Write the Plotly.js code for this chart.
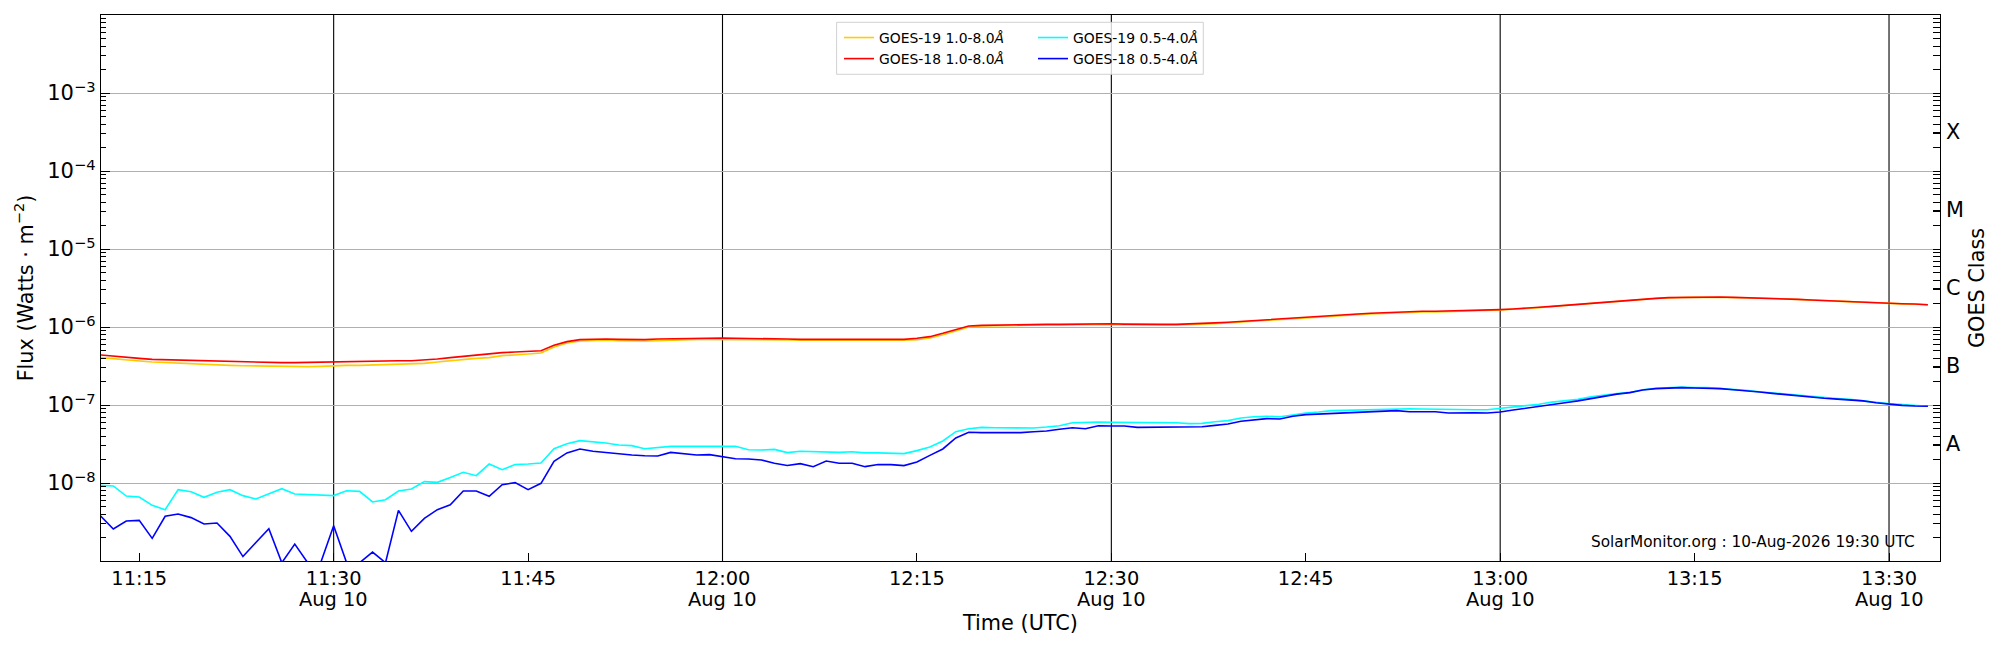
<!DOCTYPE html>
<html>
<head>
<meta charset="utf-8">
<script src="https://cdn.plot.ly/plotly-3.0.1.min.js"></script>
<style>
  html, body { margin: 0; padding: 0; background: #ffffff; }
  #chart { width: 2000px; height: 650px; }
</style>
</head>
<body>
<div id="chart"></div>
<script>
// ---------------- DATA (1-minute samples starting 11:12 UTC, 10 Aug) ----------------
const startTime = '2026-08-10 11:12';

// GOES-19 1.0-8.0 Å (gold)
const goes19Long = [
  4.05e-7, 3.89e-7, 3.74e-7, 3.66e-7, 3.56e-7, 3.49e-7, 3.46e-7, 3.39e-7, 3.32e-7, 3.26e-7,
  3.22e-7, 3.19e-7, 3.16e-7, 3.13e-7, 3.10e-7, 3.07e-7, 3.10e-7, 3.13e-7, 3.19e-7, 3.22e-7,
  3.22e-7, 3.26e-7, 3.29e-7, 3.32e-7, 3.35e-7, 3.42e-7, 3.56e-7, 3.70e-7, 3.89e-7, 3.96e-7,
  4.05e-7,
  4.29e-7, 4.38e-7, 4.46e-7, 4.64e-7, 5.54e-7, 6.24e-7, 6.61e-7, 6.75e-7, 6.75e-7, 6.68e-7,
  6.61e-7, 6.61e-7, 6.68e-7, 6.81e-7, 6.88e-7, 6.95e-7, 6.95e-7, 6.95e-7, 6.95e-7, 6.88e-7,
  6.88e-7, 6.81e-7, 6.81e-7, 6.75e-7, 6.75e-7, 6.75e-7, 6.75e-7, 6.68e-7, 6.68e-7, 6.68e-7,
  6.68e-7, 6.75e-7, 6.88e-7, 7.23e-7, 7.97e-7, 8.97e-7, 1.00e-6,
  1.03e-6, 1.04e-6, 1.04e-6, 1.05e-6, 1.05e-6, 1.06e-6, 1.06e-6, 1.07e-6, 1.08e-6, 1.08e-6,
  1.08e-6, 1.07e-6, 1.06e-6, 1.06e-6, 1.06e-6, 1.06e-6, 1.07e-6, 1.08e-6, 1.10e-6, 1.13e-6,
  1.16e-6, 1.19e-6, 1.22e-6, 1.24e-6, 1.27e-6, 1.30e-6, 1.34e-6, 1.38e-6, 1.41e-6, 1.44e-6,
  1.47e-6, 1.50e-6, 1.53e-6, 1.54e-6, 1.56e-6, 1.56e-6,
  1.57e-6, 1.59e-6, 1.61e-6, 1.63e-6, 1.65e-6, 1.68e-6, 1.72e-6, 1.77e-6, 1.83e-6, 1.88e-6,
  1.94e-6, 2.00e-6, 2.06e-6, 2.12e-6, 2.19e-6, 2.25e-6, 2.32e-6, 2.37e-6, 2.39e-6, 2.41e-6,
  2.41e-6, 2.41e-6, 2.39e-6, 2.37e-6, 2.34e-6, 2.32e-6, 2.30e-6, 2.25e-6, 2.21e-6, 2.17e-6,
  2.14e-6, 2.10e-6, 2.06e-6, 2.02e-6, 2.00e-6, 1.98e-6, 1.96e-6, 1.92e-6
];

// GOES-18 1.0-8.0 Å (red)
const goes18Long = [
  4.38e-7, 4.21e-7, 4.05e-7, 3.96e-7, 3.85e-7, 3.81e-7, 3.78e-7, 3.74e-7, 3.70e-7, 3.66e-7,
  3.59e-7, 3.56e-7, 3.56e-7, 3.52e-7, 3.49e-7, 3.49e-7, 3.52e-7, 3.56e-7, 3.59e-7, 3.63e-7,
  3.63e-7, 3.63e-7, 3.66e-7, 3.70e-7, 3.70e-7, 3.78e-7, 3.89e-7, 4.05e-7, 4.21e-7, 4.33e-7,
  4.47e-7,
  4.69e-7, 4.78e-7, 4.88e-7, 4.97e-7, 5.82e-7, 6.49e-7, 6.88e-7, 7.02e-7, 7.02e-7, 6.95e-7,
  6.88e-7, 6.88e-7, 7.02e-7, 7.09e-7, 7.16e-7, 7.23e-7, 7.23e-7, 7.23e-7, 7.16e-7, 7.16e-7,
  7.09e-7, 7.09e-7, 7.02e-7, 6.95e-7, 6.95e-7, 6.95e-7, 6.95e-7, 6.88e-7, 6.88e-7, 6.88e-7,
  6.88e-7, 6.95e-7, 7.16e-7, 7.52e-7, 8.29e-7, 9.33e-7, 1.03e-6,
  1.05e-6, 1.06e-6, 1.06e-6, 1.07e-6, 1.07e-6, 1.08e-6, 1.08e-6, 1.09e-6, 1.10e-6, 1.10e-6,
  1.10e-6, 1.09e-6, 1.08e-6, 1.08e-6, 1.08e-6, 1.08e-6, 1.09e-6, 1.10e-6, 1.13e-6, 1.15e-6,
  1.18e-6, 1.22e-6, 1.24e-6, 1.27e-6, 1.29e-6, 1.33e-6, 1.37e-6, 1.41e-6, 1.44e-6, 1.47e-6,
  1.50e-6, 1.53e-6, 1.56e-6, 1.57e-6, 1.59e-6, 1.59e-6,
  1.60e-6, 1.62e-6, 1.64e-6, 1.65e-6, 1.67e-6, 1.70e-6, 1.73e-6, 1.79e-6, 1.84e-6, 1.90e-6,
  1.95e-6, 2.01e-6, 2.07e-6, 2.13e-6, 2.20e-6, 2.26e-6, 2.33e-6, 2.38e-6, 2.40e-6, 2.42e-6,
  2.42e-6, 2.42e-6, 2.40e-6, 2.38e-6, 2.35e-6, 2.33e-6, 2.31e-6, 2.26e-6, 2.22e-6, 2.18e-6,
  2.15e-6, 2.11e-6, 2.07e-6, 2.03e-6, 2.01e-6, 1.99e-6, 1.97e-6, 1.93e-6
];

// GOES-19 0.5-4.0 Å (cyan)
const goes19Short = [
  9.33e-9, 9.16e-9, 6.81e-9, 6.61e-9, 5.17e-9, 4.55e-9, 8.21e-9, 7.74e-9, 6.55e-9, 7.59e-9,
  8.21e-9, 6.89e-9, 6.24e-9, 7.30e-9, 8.46e-9, 7.23e-9, 7.08e-9, 6.89e-9, 6.89e-9, 7.97e-9,
  7.82e-9, 5.71e-9, 6.11e-9, 7.89e-9, 8.38e-9, 1.04e-8, 1.02e-8, 1.18e-8, 1.37e-8, 1.24e-8,
  1.75e-8,
  1.48e-8, 1.73e-8, 1.75e-8, 1.80e-8, 2.75e-8, 3.19e-8, 3.49e-8, 3.39e-8, 3.26e-8, 3.07e-8,
  3.01e-8, 2.75e-8, 2.86e-8, 2.95e-8, 2.95e-8, 2.95e-8, 2.95e-8, 2.95e-8, 2.95e-8, 2.67e-8,
  2.65e-8, 2.70e-8, 2.45e-8, 2.55e-8, 2.52e-8, 2.47e-8, 2.47e-8, 2.52e-8, 2.43e-8, 2.43e-8,
  2.40e-8, 2.38e-8, 2.60e-8, 2.90e-8, 3.46e-8, 4.55e-8, 4.97e-8,
  5.17e-8, 5.12e-8, 5.12e-8, 5.02e-8, 5.07e-8, 5.22e-8, 5.43e-8, 5.93e-8, 6.05e-8, 6.05e-8,
  6.00e-8, 6.00e-8, 6.00e-8, 5.87e-8, 5.93e-8, 5.93e-8, 5.77e-8, 5.82e-8, 6.11e-8, 6.30e-8,
  6.81e-8, 7.08e-8, 7.16e-8, 7.08e-8, 7.45e-8, 7.89e-8, 8.13e-8, 8.46e-8, 8.54e-8, 8.63e-8,
  8.80e-8, 8.97e-8, 9.06e-8, 8.97e-8, 8.89e-8, 8.80e-8,
  8.80e-8, 8.71e-8, 8.71e-8, 8.71e-8, 9.06e-8, 9.33e-8, 9.62e-8, 1.02e-7, 1.09e-7, 1.13e-7,
  1.18e-7, 1.27e-7, 1.34e-7, 1.40e-7, 1.45e-7, 1.57e-7, 1.64e-7, 1.67e-7, 1.70e-7, 1.68e-7,
  1.67e-7, 1.62e-7, 1.59e-7, 1.54e-7, 1.48e-7, 1.43e-7, 1.37e-7, 1.33e-7, 1.28e-7, 1.23e-7,
  1.21e-7, 1.18e-7, 1.14e-7, 1.08e-7, 1.04e-7, 1.02e-7, 9.80e-8, 9.62e-8
];

// GOES-18 0.5-4.0 Å (blue)
const goes18Short = [
  3.81e-9, 2.57e-9, 3.26e-9, 3.32e-9, 1.95e-9, 3.74e-9, 4.01e-9, 3.60e-9, 2.98e-9, 3.07e-9,
  2.07e-9, 1.14e-9, 1.73e-9, 2.60e-9, 9.5e-10, 1.65e-9, 9.5e-10, 9.5e-10, 2.84e-9, 9.5e-10,
  9.5e-10, 1.30e-9, 9.5e-10, 4.46e-9, 2.40e-9, 3.52e-9, 4.55e-9, 5.27e-9, 7.89e-9, 7.89e-9,
  6.74e-9,
  9.50e-9, 1.01e-8, 8.20e-9, 9.90e-9, 1.90e-8, 2.43e-8, 2.73e-8, 2.55e-8, 2.45e-8, 2.40e-8,
  2.29e-8, 2.24e-8, 2.22e-8, 2.47e-8, 2.38e-8, 2.29e-8, 2.31e-8, 2.16e-8, 2.05e-8, 2.03e-8,
  1.97e-8, 1.79e-8, 1.68e-8, 1.77e-8, 1.62e-8, 1.91e-8, 1.79e-8, 1.79e-8, 1.62e-8, 1.73e-8,
  1.72e-8, 1.67e-8, 1.86e-8, 2.26e-8, 2.73e-8, 3.78e-8, 4.47e-8,
  4.42e-8, 4.42e-8, 4.47e-8, 4.42e-8, 4.55e-8, 4.64e-8, 4.88e-8, 5.12e-8, 4.97e-8, 5.43e-8,
  5.38e-8, 5.38e-8, 5.17e-8, 5.17e-8, 5.22e-8, 5.17e-8, 5.22e-8, 5.27e-8, 5.48e-8, 5.71e-8,
  6.18e-8, 6.42e-8, 6.68e-8, 6.61e-8, 7.16e-8, 7.52e-8, 7.67e-8, 7.74e-8, 7.82e-8, 8.13e-8,
  8.29e-8, 8.46e-8, 8.46e-8, 8.21e-8, 8.29e-8, 8.21e-8,
  7.89e-8, 7.97e-8, 7.97e-8, 7.89e-8, 8.13e-8, 8.63e-8, 9.06e-8, 9.52e-8, 1.02e-7, 1.07e-7,
  1.13e-7, 1.21e-7, 1.30e-7, 1.38e-7, 1.44e-7, 1.56e-7, 1.62e-7, 1.65e-7, 1.67e-7, 1.65e-7,
  1.65e-7, 1.62e-7, 1.57e-7, 1.53e-7, 1.47e-7, 1.41e-7, 1.36e-7, 1.32e-7, 1.25e-7, 1.22e-7,
  1.19e-7, 1.17e-7, 1.13e-7, 1.07e-7, 1.02e-7, 9.90e-8, 9.71e-8, 9.62e-8
];

const seriesNames = ['GOES-19 1.0-8.0<i>Å</i>', 'GOES-18 1.0-8.0<i>Å</i>',
                     'GOES-19 0.5-4.0<i>Å</i>', 'GOES-18 0.5-4.0<i>Å</i>'];

const xTickVals = ['2026-08-10 11:15', '2026-08-10 11:30', '2026-08-10 11:45', '2026-08-10 12:00',
                   '2026-08-10 12:15', '2026-08-10 12:30', '2026-08-10 12:45', '2026-08-10 13:00',
                   '2026-08-10 13:15', '2026-08-10 13:30'];
const xTickText = ['11:15', '11:30', '11:45', '12:00', '12:15',
                   '12:30', '12:45', '13:00', '13:15', '13:30'];
const halfHourMarks = ['2026-08-10 11:30', '2026-08-10 12:00', '2026-08-10 12:30',
                       '2026-08-10 13:00', '2026-08-10 13:30'];
const dateLabel = 'Aug 10';

const fluxTickVals = [1e-8, 1e-7, 1e-6, 1e-5, 1e-4, 1e-3];
const fluxTickText = ['10<sup>−8</sup>', '10<sup>−7</sup>', '10<sup>−6</sup>',
                      '10<sup>−5</sup>', '10<sup>−4</sup>', '10<sup>−3</sup>'];
const classTickVals = [3.162e-8, 3.162e-7, 3.162e-6, 3.162e-5, 3.162e-4];
const classTickText = ['A', 'B', 'C', 'M', 'X'];

const watermark = 'SolarMonitor.org : 10-Aug-2026 19:30 UTC';

// ---------------- BUILD ----------------
function minuteTimes(start, n) {
  const t0 = new Date(start.replace(' ', 'T') + ':00Z').getTime();
  const out = [];
  for (let i = 0; i < n; i++) {
    out.push(new Date(t0 + i * 60000).toISOString().slice(0, 19).replace('T', ' '));
  }
  return out;
}
const times = minuteTimes(startTime, goes18Long.length);

const FONT = 'DejaVu Sans, Liberation Sans, sans-serif';
const colors = ['#FFCC00', '#FF0000', '#00FFFF', '#0000FF'];
const seriesData = [goes19Long, goes18Long, goes19Short, goes18Short];
const legendIds = ['legend', 'legend', 'legend2', 'legend2'];

const traces = seriesData.map((ys, i) => ({
  type: 'scatter', mode: 'lines', x: times, y: ys,
  name: seriesNames[i], legend: legendIds[i],
  line: { color: colors[i], width: 1.6 },
  hoverinfo: 'skip'
}));
// helper so the right-hand class axis is drawn
traces.push({ type: 'scatter', mode: 'markers', x: [times[0]], y: [1e-5], yaxis: 'y2',
              marker: { opacity: 0 }, showlegend: false, hoverinfo: 'skip' });

const shapes = halfHourMarks.map(t => ({
  type: 'line', xref: 'x', yref: 'paper', x0: t, x1: t, y0: 0, y1: 1,
  line: { color: '#000000', width: 1.1 }, layer: 'between'
}));
shapes.push({
  type: 'rect', xref: 'paper', yref: 'paper',
  x0: 0.4000, x1: 0.5994, y0: 0.8914, y1: 0.9866,
  fillcolor: 'rgba(255,255,255,0.8)', line: { color: 'rgba(204,204,204,0.9)', width: 1 },
  layer: 'above'
});

const annotations = halfHourMarks.map(t => ({
  text: dateLabel, xref: 'x', yref: 'paper', x: t, y: 0,
  xanchor: 'center', yanchor: 'middle', yshift: -38, showarrow: false,
  font: { family: FONT, size: 19.4, color: '#000000' }
}));
annotations.push({
  text: watermark, xref: 'paper', yref: 'paper', x: 0.9873, y: 0.0345,
  xanchor: 'right', yanchor: 'middle', showarrow: false,
  font: { family: FONT, size: 15.3, color: '#000000' }
});

const layout = {
  width: 2000, height: 650,
  margin: { l: 101, r: 60, t: 15, b: 89, pad: 0 },
  paper_bgcolor: '#ffffff', plot_bgcolor: '#ffffff',
  font: { family: FONT, color: '#000000', size: 19.4 },
  showlegend: true,
  xaxis: {
    type: 'date',
    range: ['2026-08-10 11:12:03', '2026-08-10 13:33:56'],
    tickmode: 'array', tickvals: xTickVals, ticktext: xTickText,
    ticks: 'inside', ticklen: 8, tickwidth: 1, tickcolor: '#000000',
    tickfont: { family: FONT, size: 19.4, color: '#000000' },
    showgrid: false, zeroline: false,
    showline: true, linecolor: '#000000', linewidth: 1.2, mirror: true,
    title: { text: 'Time (UTC)', font: { family: FONT, size: 20.8, color: '#000000' }, standoff: 26 }
  },
  yaxis: {
    type: 'log', range: [-9, -2],
    tickmode: 'array', tickvals: fluxTickVals, ticktext: fluxTickText,
    ticks: 'inside', ticklen: 9, tickwidth: 1, tickcolor: '#000000',
    tickfont: { family: FONT, size: 21, color: '#000000' },
    showgrid: true, gridcolor: '#b0b0b0', gridwidth: 1, zeroline: false,
    showline: true, linecolor: '#000000', linewidth: 1.2, mirror: true,
    minor: { ticks: 'inside', ticklen: 5, tickwidth: 1, tickcolor: '#000000', dtick: 'D1', showgrid: false },
    title: { text: 'Flux (Watts · m<sup>−2</sup>)', font: { family: FONT, size: 20.8, color: '#000000' }, standoff: 8 }
  },
  yaxis2: {
    type: 'log', range: [-9, -2], overlaying: 'y', side: 'right', anchor: 'x',
    tickmode: 'array', tickvals: classTickVals, ticktext: classTickText,
    ticks: 'inside', ticklen: 7, tickwidth: 1, tickcolor: '#000000',
    tickfont: { family: FONT, size: 20.8, color: '#000000' },
    ticklabelstandoff: 5,
    showgrid: false, zeroline: false, showline: false,
    minor: { ticks: 'inside', ticklen: 7, tickwidth: 1, tickcolor: '#000000', dtick: 'D1', showgrid: false },
    title: { text: 'GOES Class', font: { family: FONT, size: 20.8, color: '#000000' }, standoff: 6 }
  },
  legend: {
    x: 0.4013, y: 0.9872, xanchor: 'left', yanchor: 'top',
    bgcolor: 'rgba(0,0,0,0)', borderwidth: 0, tracegroupgap: 0,
    font: { family: FONT, size: 13.9, color: '#000000' }
  },
  legend2: {
    x: 0.5068, y: 0.9872, xanchor: 'left', yanchor: 'top',
    bgcolor: 'rgba(0,0,0,0)', borderwidth: 0, tracegroupgap: 0,
    font: { family: FONT, size: 13.9, color: '#000000' }
  },
  shapes: shapes,
  annotations: annotations
};

Plotly.newPlot('chart', traces, layout, { staticPlot: true, displayModeBar: false });
</script>
</body>
</html>
